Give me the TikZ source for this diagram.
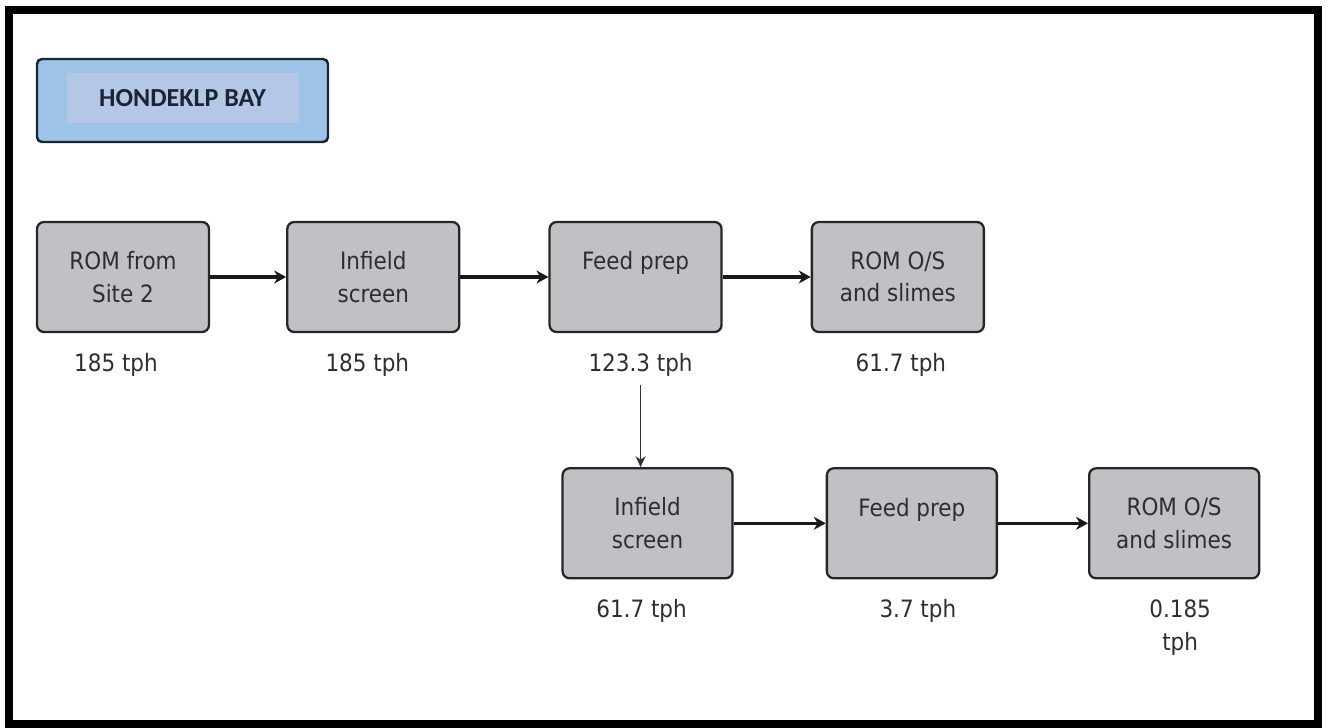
\documentclass[tikz,border=0pt]{standalone}
\usepackage{fontspec}
\setmainfont{DejaVu Sans Condensed}
\newfontfamily\titlefont{Carlito}
\usepackage{tikz}
\usetikzlibrary{
	arrows.meta,
	positioning,
	calc
}
\definecolor{stagefill}{HTML}{C1C1C5}
\definecolor{stagetext}{HTML}{2E2E2E}
\definecolor{bayblue}{HTML}{9DC3E6}
\definecolor{baylav}{HTML}{B4C7E7}
\definecolor{baynavy}{HTML}{1B2433}

\begin{document}
\begin{tikzpicture}[
		stage/.style={draw=black!85, line width=1.3pt, fill=stagefill, rounded corners=0.14cm, minimum width=3.44cm, minimum height=2.2cm, align=center, text=stagetext, font=\fontsize{13.6}{18.5}\selectfont},
		rate/.style={inner sep=0pt, align=center, text=stagetext, font=\fontsize{13.6}{18.5}\selectfont},
		bay/.style={draw=baynavy, line width=1.4pt, fill=bayblue, rounded corners=0.1cm, minimum width=5.82cm, minimum height=1.66cm},
		baylabel/.style={fill=baylav, minimum width=4.64cm, minimum height=1.0cm, text=baynavy, font=\titlefont\fontsize{14.8}{17}\selectfont\bfseries},
		flow/.style={-{Stealth[length=0.24cm, width=0.26cm]}, line width=1.9pt, draw=black!90},
		feed/.style={-{Stealth[length=0.22cm, width=0.2cm]}, line width=0.8pt, draw=black!80}
		]
		
		\useasboundingbox (0,0) rectangle (26.58,-14.54);
		\draw[line width=4.5pt] (0.18,-0.2) rectangle (26.36,-14.48);
		
		\node[bay] (bay) at (3.65,-2.01) {};
		\node[baylabel, yshift=0.05cm] (baytitle) at (bay.center) {HONDEKLP BAY\hspace{0.25cm}};
		
		\node[stage] (rom) at (2.46,-5.54) {ROM from\\Site 2};
		\node[stage, right=1.52cm of rom] (screenA) {Infield\\screen};
		\node[stage, right=1.76cm of screenA] (prepA) {Feed prep\\\mbox{}};
		\node[stage, right=1.76cm of prepA] (slimesA) {ROM O/S\\and slimes};
		
		\node[stage, below=2.68cm of prepA, xshift=0.24cm, minimum width=3.4cm] (screenB) {Infield\\screen};
		\node[stage, right=1.84cm of screenB, minimum width=3.4cm] (prepB) {Feed prep\\\mbox{}};
		\node[stage, right=1.8cm of prepB, minimum width=3.4cm] (slimesB) {ROM O/S\\and slimes};
		
		\node[rate, below=0.4cm of rom, xshift=-0.14cm] (romrate) {185 tph};
		\node[rate, below=0.4cm of screenA, xshift=-0.12cm] (screenrateA) {185 tph};
		\node[rate, below=0.4cm of prepA, xshift=0.1cm] (preprateA) {123.3 tph};
		\node[rate, below=0.4cm of slimesA, xshift=0.06cm] (slimesrateA) {61.7 tph};
		\node[rate, below=0.4cm of screenB, xshift=-0.12cm] (screenrateB) {61.7 tph};
		\node[rate, below=0.4cm of prepB, xshift=0.12cm] (preprateB) {3.7 tph};
		\node[rate, below=0.4cm of slimesB, xshift=0.12cm] (slimesrateB) {0.185\\tph};
		
		\draw[flow] (rom) -- (screenA);
		\draw[flow] (screenA) -- (prepA);
		\draw[flow] (prepA) -- (slimesA);
		\draw[feed] ([yshift=-0.16cm]preprateA.south) -- (preprateA.south |- screenB.north);
		\draw[flow] (screenB) -- (prepB);
		\draw[flow] (prepB) -- (slimesB);
		
	\end{tikzpicture}
\end{document}
